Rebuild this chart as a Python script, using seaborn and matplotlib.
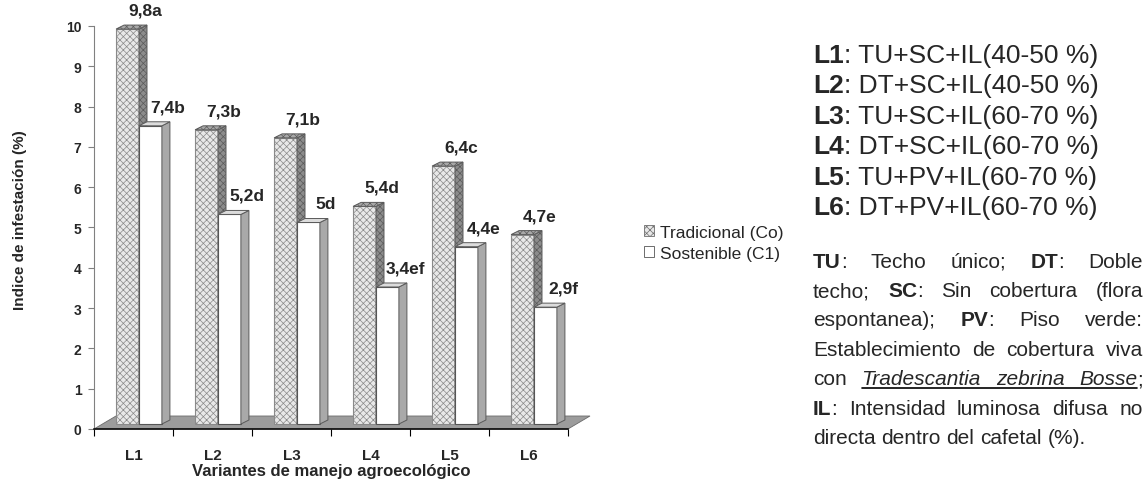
import re
import numpy as np
import pandas as pd
import matplotlib
matplotlib.use('Agg')
import matplotlib.pyplot as plt
from matplotlib.patches import Patch, Polygon
from matplotlib.lines import Line2D
from matplotlib.transforms import IdentityTransform, ScaledTranslation
import seaborn as sns

categories = ['L1', 'L2', 'L3', 'L4', 'L5', 'L6']
tradicional = [9.8, 7.3, 7.1, 5.4, 6.4, 4.7]
sostenible = [7.4, 5.2, 5.0, 3.4, 4.4, 2.9]
letras_trad = ['a', 'b', 'b', 'd', 'c', 'e']
letras_sost = ['b', 'd', 'd', 'ef', 'e', 'f']
series = ['Tradicional (Co)', 'Sostenible (C1)']
y_ticks = list(range(0, 11))

variantes = ['TU+SC+IL(40-50 %)', 'DT+SC+IL(40-50 %)', 'TU+SC+IL(60-70 %)',
             'DT+SC+IL(60-70 %)', 'TU+PV+IL(60-70 %)', 'DT+PV+IL(60-70 %)']
# *bold*  _italic (underlined)_
nota = [
    '*TU*: Techo único; *DT*: Doble',
    'techo; *SC*: Sin cobertura (flora',
    'espontanea); *PV*: Piso verde:',
    'Establecimiento de cobertura viva',
    'con _Tradescantia_ _zebrina_ _Bosse_;',
    '*IL*: Intensidad luminosa difusa no',
    'directa dentro del cafetal (%).',
]

sns.set_style('white')
plt.rcParams['font.family'] = ['Liberation Sans', 'DejaVu Sans']
plt.rcParams['hatch.linewidth'] = 0.5

W, H = 1147, 485
fig = plt.figure(figsize=(W / 100, H / 100), dpi=100)
ax = fig.add_axes([94 / W, 1 - 430 / H, (568 - 94) / W, (430 - 27) / H])

df = pd.DataFrame({
    'variante': categories * 2,
    'indice': tradicional + sostenible,
    'sistema': [series[0]] * len(categories) + [series[1]] * len(categories),
})
sns.barplot(data=df, x='variante', y='indice', hue='sistema', hue_order=series,
            palette=['#e8e8e8', 'white'], width=0.58, saturation=1,
            legend=False, ax=ax)
ax.set_xlim(-0.5, len(categories) - 0.5)
ax.set_ylim(0, 10)

# pseudo 3D: floor, side and top faces
shift = ScaledTranslation(5.5 / 100, 5 / 100, fig.dpi_scale_trans)
dx, dy = 8, 4
fdx, fdy = 22, 13
(fx0, fy0), (fx1, _) = ax.transData.transform([(-0.5, 0), (len(categories) - 0.5, 0)])
ax.add_patch(Polygon([(fx0, fy0), (fx1, fy0), (fx1 + fdx, fy0 + fdy), (fx0 + fdx, fy0 + fdy)],
                     closed=True, transform=IdentityTransform(), facecolor='#9c9c9c',
                     edgecolor='#6a6a6a', lw=0.6, zorder=2, clip_on=False))

styles = [
    dict(front='#e8e8e8', side='#8c8c8c', top='#a8a8a8', edge='#8a8a8a', hatch='xxxxx'),
    dict(front='white', side='#a9a9a9', top='#dcdcdc', edge='#555555', hatch=None),
]
letras = [letras_trad, letras_sost]
values = [tradicional, sostenible]
z = 3
for i in range(len(categories)):
    for k, cont in enumerate(ax.containers):
        bar = cont[i]
        st = styles[k]
        tr = ax.transData + shift
        bar.set_transform(tr)
        bar.set_facecolor(st['front'])
        bar.set_edgecolor(st['edge'])
        bar.set_linewidth(0.8)
        bar.set_hatch(st['hatch'])
        bar.set_zorder(z)
        bar.set_clip_on(False)
        (x0, y0), (x1, y1) = tr.transform([(bar.get_x(), 0),
                                           (bar.get_x() + bar.get_width(), bar.get_height())])
        side = Polygon([(x1, y0), (x1, y1), (x1 + dx, y1 + dy), (x1 + dx, y0 + dy)],
                       closed=True, transform=IdentityTransform(), facecolor=st['side'],
                       edgecolor='#5a5a5a', lw=0.7, hatch=st['hatch'], zorder=z, clip_on=False)
        top = Polygon([(x0, y1), (x1, y1), (x1 + dx, y1 + dy), (x0 + dx, y1 + dy)],
                      closed=True, transform=IdentityTransform(), facecolor=st['top'],
                      edgecolor='#5a5a5a', lw=0.7, hatch=st['hatch'], zorder=z, clip_on=False)
        ax.add_patch(side)
        ax.add_patch(top)
        lab = f"{values[k][i]:g}".replace('.', ',') + letras[k][i]
        ax.annotate(lab, xy=(bar.get_x() + bar.get_width() / 2, bar.get_height()),
                    xytext=(23, 24), textcoords='offset pixels', ha='center', va='center',
                    fontsize=12.5, fontweight='bold', zorder=z + 1)
        z += 1

# axes
for s in ['top', 'right']:
    ax.spines[s].set_visible(False)
ax.spines['left'].set_color('#808080')
ax.spines['bottom'].set_color('black')
ax.spines['bottom'].set_linewidth(1.1)

ax.set_yticks(y_ticks)
ax.tick_params(axis='y', left=True, length=4, width=0.8, color='#808080', pad=5, labelsize=10)
for t in ax.get_yticklabels():
    t.set_fontweight('bold')

ax.set_xticks(np.arange(-0.5, len(categories), 1.0))
ax.set_xticklabels([])
ax.set_xticks(range(len(categories)), minor=True)
ax.set_xticklabels(categories, minor=True, fontweight='bold', fontsize=11)
ax.tick_params(axis='x', which='major', bottom=True, length=5, width=0.8, color='black')
ax.tick_params(axis='x', which='minor', bottom=True, length=0, pad=14)

ax.set_xlabel('Variantes de manejo agroecológico', fontsize=12, fontweight='bold')
ax.xaxis.set_label_coords(0.5, (430 - 464) / 403)
ax.set_ylabel('Indice de infestación (%)', fontsize=11, fontweight='bold')
ax.yaxis.set_label_coords((27 - 94) / 474, (430 - 220) / 403)

handles = [Patch(facecolor=styles[0]['front'], edgecolor='#6e6e6e', hatch='xxxxx', lw=0.6),
           Patch(facecolor='white', edgecolor='#555555', lw=0.6)]
fig.legend(handles, series, loc='center right', bbox_to_anchor=(783 / W, 1 - 244 / H),
           frameon=False, fontsize=12.5, handlelength=0.6, handleheight=0.6,
           handletextpad=0.3, labelspacing=0.35, borderpad=0, borderaxespad=0)

# text block on the right
renderer = fig.canvas.get_renderer()


def run_width(s, size, weight='normal', style='normal'):
    t = fig.text(0, 0, s, fontsize=size, fontweight=weight, fontstyle=style)
    w = t.get_window_extent(renderer).width
    t.remove()
    return w


left, right = 813, 1143
for i, (cat, desc) in enumerate(zip(categories, variantes)):
    yb = 63 + i * 30.4
    fig.text(left / W, 1 - yb / H, cat, fontsize=19, fontweight='bold', va='baseline')
    w = run_width(cat, 19, 'bold')
    fig.text((left + w) / W, 1 - yb / H, ': ' + desc, fontsize=19, va='baseline')

size = 15
space = run_width('a a', size) - run_width('aa', size)
for n, line in enumerate(nota):
    yb = 267.5 + n * 29.5
    words = []
    for word in line.split(' '):
        runs = []
        for part in re.findall(r'\*[^*]+\*|_[^_]+_|[^*_]+', word):
            if part.startswith('*'):
                runs.append((part[1:-1], 'bold', 'normal'))
            elif part.startswith('_'):
                runs.append((part[1:-1], 'normal', 'italic'))
            else:
                runs.append((part, 'normal', 'normal'))
        widths = [run_width(r[0], size, r[1], r[2]) for r in runs]
        words.append((runs, widths))
    total = sum(sum(w) for _, w in words)
    if n < len(nota) - 1:
        gap = (right - left - total) / (len(words) - 1)
    else:
        gap = space
    x = left
    ul = []
    for runs, widths in words:
        for (txt, weight, style), w in zip(runs, widths):
            fig.text(x / W, 1 - yb / H, txt, fontsize=size, fontweight=weight,
                     fontstyle=style, va='baseline')
            if style == 'italic':
                ul += [x, x + w]
            x += w
        x += gap
    if ul:
        fig.add_artist(Line2D([min(ul) / W, max(ul) / W], [1 - (yb + 3) / H] * 2,
                              transform=fig.transFigure, color='black', lw=1.2))

fig.savefig('out.png', dpi=100)
